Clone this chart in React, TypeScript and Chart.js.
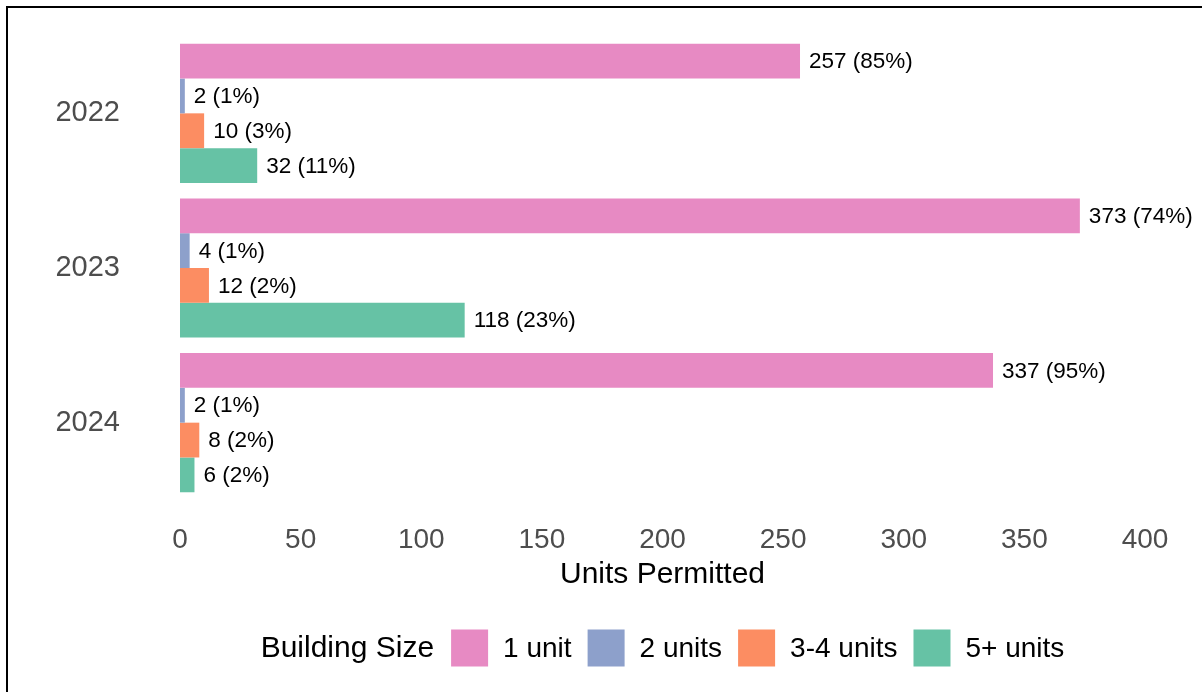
import React, { useEffect, useRef } from 'react';
import { Chart, registerables } from 'chart.js';

Chart.register(...registerables);

const FONT = '"Liberation Sans", Arial, Helvetica, sans-serif';

const years = ['2022', '2023', '2024'];
const seriesNames = ['1 unit', '2 units', '3-4 units', '5+ units'];
const oneUnit = [257, 373, 337];
const twoUnits = [2, 4, 2];
const threeFourUnits = [10, 12, 8];
const fivePlusUnits = [32, 118, 6];
const seriesColors = ['#E78AC3', '#8DA0CB', '#FC8D62', '#66C2A5'];
const xTicks = [0, 50, 100, 150, 200, 250, 300, 350, 400];
const legendTitle = 'Building Size';
const xTitle = 'Units Permitted';

export default function App() {
  const ref = useRef<HTMLCanvasElement>(null);

  useEffect(() => {
    document.body.style.margin = '0';
    const series = [oneUnit, twoUnits, threeFourUnits, fivePlusUnits];
    const totals = years.map((_, i) => series.reduce((s, arr) => s + arr[i], 0));

    const labelPlugin = {
      id: 'barLabels',
      afterDatasetsDraw(chart: any) {
        const ctx = chart.ctx;
        ctx.save();
        ctx.font = `22.5px ${FONT}`;
        ctx.fillStyle = '#000';
        ctx.textBaseline = 'middle';
        ctx.textAlign = 'left';
        chart.data.datasets.forEach((ds: any, di: number) => {
          const meta = chart.getDatasetMeta(di);
          meta.data.forEach((bar: any, i: number) => {
            const v = ds.data[i] as number;
            const pct = Math.round((v / totals[i]) * 100);
            ctx.fillText(`${v} (${pct}%)`, bar.x + 9, bar.y + 1);
          });
        });
        ctx.restore();
      },
    };

    const legendPlugin = {
      id: 'inlineLegend',
      afterDraw(chart: any) {
        const ctx = chart.ctx;
        ctx.save();
        const BOX = 37;
        const TITLE_GAP = 17;
        const TEXT_GAP = 15;
        const ITEM_GAP = 16;
        ctx.font = `30px ${FONT}`;
        const titleW = ctx.measureText(legendTitle).width;
        ctx.font = `28px ${FONT}`;
        const labelWs = seriesNames.map((n) => ctx.measureText(n).width);
        const total =
          titleW +
          TITLE_GAP +
          labelWs.reduce((s, w) => s + BOX + TEXT_GAP + w, 0) +
          ITEM_GAP * (seriesNames.length - 1);
        const cx = (chart.chartArea.left + chart.chartArea.right) / 2;
        let x = cx - total / 2;
        const cy = chart.height - 44;
        ctx.textBaseline = 'middle';
        ctx.textAlign = 'left';
        ctx.fillStyle = '#000';
        ctx.font = `30px ${FONT}`;
        ctx.fillText(legendTitle, x, cy + 1);
        ctx.font = `28px ${FONT}`;
        x += titleW + TITLE_GAP;
        seriesNames.forEach((n, i) => {
          ctx.fillStyle = seriesColors[i];
          ctx.fillRect(x, cy - BOX / 2, BOX, BOX);
          x += BOX + TEXT_GAP;
          ctx.fillStyle = '#000';
          ctx.fillText(n, x, cy + 1);
          x += labelWs[i] + ITEM_GAP;
        });
        ctx.restore();
      },
    };

    const chart = new Chart(ref.current as HTMLCanvasElement, {
      type: 'bar',
      data: {
        labels: years,
        datasets: seriesNames.map((name, i) => ({
          label: name,
          data: series[i],
          backgroundColor: seriesColors[i],
          borderWidth: 0,
          categoryPercentage: 0.9,
          barPercentage: 1.0,
        })),
      },
      options: {
        indexAxis: 'y',
        animation: false,
        responsive: true,
        maintainAspectRatio: false,
        layout: { padding: { top: 36, right: 57, left: 0, bottom: 100 } },
        plugins: {
          legend: { display: false },
          tooltip: { enabled: false },
        },
        scales: {
          x: {
            type: 'linear',
            min: 0,
            max: 400,
            grid: { display: false },
            border: { display: false },
            ticks: {
              color: '#4D4D4D',
              font: { family: FONT, size: 28 },
              padding: 15,
              maxRotation: 0,
            },
            afterBuildTicks: (scale: any) => {
              scale.ticks = xTicks.map((v) => ({ value: v }));
            },
            afterFit: (scale: any) => {
              scale.height = 92;
            },
            title: {
              display: true,
              text: xTitle,
              color: '#000',
              font: { family: FONT, size: 30 },
              padding: { top: 0, bottom: -1 },
            },
          },
          y: {
            type: 'category',
            offset: true,
            grid: { display: false },
            border: { display: false },
            ticks: {
              color: '#4D4D4D',
              font: { family: FONT, size: 29 },
              padding: 52,
            },
            afterFit: (scale: any) => {
              scale.width = 180;
              scale.paddingTop = 0;
              scale.paddingBottom = 0;
            },
          },
        },
      },
      plugins: [labelPlugin, legendPlugin],
    } as any);

    return () => chart.destroy();
  }, []);

  return (
    <div style={{ position: 'fixed', left: 0, top: 0, width: 1202, height: 692, background: '#fff' }}>
      <div style={{ position: 'absolute', left: 0, top: 0, width: 1202, height: 692 }}>
        <canvas ref={ref} />
      </div>
      <div
        style={{
          position: 'absolute',
          left: 6,
          top: 6,
          right: 0,
          bottom: 0,
          borderLeft: '2px solid #000',
          borderTop: '2px solid #000',
          pointerEvents: 'none',
        }}
      />
    </div>
  );
}
